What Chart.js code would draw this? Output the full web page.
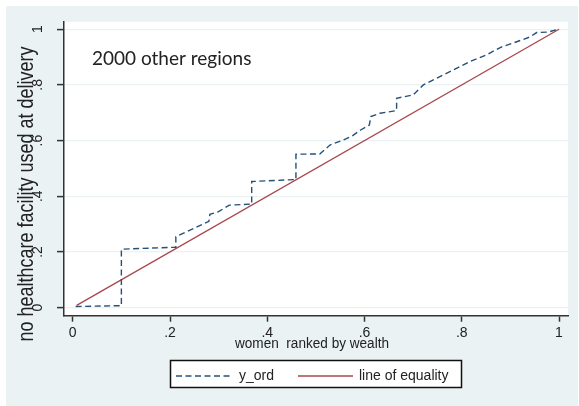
<!DOCTYPE html>
<html>
<head>
    <title>Concentration curve - 2000 other regions</title>
    <script src="https://cdn.jsdelivr.net/npm/chart.js"></script>
    <style>
        body { margin: 0; background: #ffffff; }
        canvas { display: block; }
    </style>
</head>
<body>
<canvas id="curve-chart" width="579" height="406"></canvas>
<script>
    // Tick positions and labels (Stata style, no leading zero)
    const xTicks = [0, 0.2, 0.4, 0.6, 0.8, 1];
    const xTickLabels = ['0', '.2', '.4', '.6', '.8', '1'];
    const yTicks = [0, 0.2, 0.4, 0.6, 0.8, 1];
    const yTickLabels = ['0', '.2', '.4', '.6', '.8', '1'];

    // y_ord curve
    const yOrdX = [0.006, 0.100, 0.100, 0.212, 0.212, 0.250, 0.280, 0.282, 0.300, 0.322,
                   0.368, 0.368, 0.459, 0.459, 0.508, 0.529, 0.556, 0.575, 0.592, 0.610,
                   0.613, 0.632, 0.666, 0.666, 0.700, 0.721, 0.755, 0.783, 0.817, 0.851,
                   0.880, 0.913, 0.940, 0.954, 0.978, 0.998];
    const yOrdY = [0.004, 0.007, 0.210, 0.217, 0.255, 0.285, 0.310, 0.335, 0.345, 0.368,
                   0.372, 0.453, 0.460, 0.551, 0.552, 0.584, 0.602, 0.617, 0.638, 0.656,
                   0.686, 0.698, 0.708, 0.752, 0.764, 0.800, 0.830, 0.854, 0.884, 0.908,
                   0.935, 0.955, 0.972, 0.988, 0.990, 1.000];

    // line of equality
    const equalityX = [0.008, 1];
    const equalityY = [0.008, 1];

    const seriesLabels = ['y_ord', 'line of equality'];
    const annotationText = '2000 other regions';
    const xTitle = 'women  ranked by wealth';
    const yTitle = 'no healthcare facility used at delivery';

    const navy = '#24507a';
    const maroon = '#a9474d';
    const bgColor = '#eaf2f3';
    const axisColor = '#333333';
    const textColor = '#222222';

    function toPoints(xs, ys) {
        return xs.map((x, i) => ({ x: x, y: ys[i] }));
    }

    // Stata-like backgrounds and the text the axes don't handle
    const stataDecor = {
        id: 'stataDecor',
        beforeDraw(chart) {
            const ctx = chart.ctx;
            const area = chart.chartArea;
            ctx.save();
            ctx.fillStyle = '#ffffff';
            ctx.fillRect(0, 0, chart.width, chart.height);
            ctx.fillStyle = bgColor;
            ctx.fillRect(6, 6, chart.width - 7, chart.height - 6);
            ctx.fillStyle = '#ffffff';
            ctx.fillRect(area.left, area.top, area.right - area.left, area.bottom - area.top);
            ctx.restore();
        },
        afterDraw(chart) {
            const ctx = chart.ctx;
            const yScale = chart.scales.y;
            ctx.save();
            ctx.fillStyle = textColor;

            // rotated y tick labels
            ctx.font = '14px "Liberation Sans", Arial, sans-serif';
            ctx.textAlign = 'center';
            ctx.textBaseline = 'middle';
            yTicks.forEach((v, i) => {
                const py = yScale.getPixelForValue(v);
                ctx.save();
                ctx.translate(38, py);
                ctx.rotate(-Math.PI / 2);
                ctx.fillText(yTickLabels[i], 0, 0);
                ctx.restore();
            });

            // y title
            ctx.save();
            ctx.font = '22px "Liberation Sans", Arial, sans-serif';
            ctx.textAlign = 'center';
            ctx.textBaseline = 'alphabetic';
            ctx.translate(33, 194);
            ctx.rotate(-Math.PI / 2);
            ctx.fillText(yTitle, 0, 0, 295);
            ctx.restore();

            // x title
            ctx.font = '14px "Liberation Sans", Arial, sans-serif';
            ctx.textAlign = 'center';
            ctx.textBaseline = 'alphabetic';
            ctx.fillText(xTitle, 312, 348, 154);

            // text inside the plot
            ctx.font = '19px Lato, "Open Sans", sans-serif';
            ctx.textAlign = 'left';
            ctx.fillText(annotationText, 92, 65, 173);

            // legend box
            ctx.fillStyle = '#ffffff';
            ctx.fillRect(170.5, 360.5, 291, 27);
            ctx.strokeStyle = '#111111';
            ctx.lineWidth = 1.5;
            ctx.strokeRect(170.5, 360.5, 291, 27);

            ctx.lineWidth = 1.4;
            ctx.strokeStyle = navy;
            ctx.setLineDash([6, 3.5]);
            ctx.beginPath();
            ctx.moveTo(176, 376);
            ctx.lineTo(232, 376);
            ctx.stroke();
            ctx.setLineDash([]);
            ctx.strokeStyle = maroon;
            ctx.beginPath();
            ctx.moveTo(298, 376);
            ctx.lineTo(353, 376);
            ctx.stroke();

            ctx.fillStyle = textColor;
            ctx.font = '14px "Liberation Sans", Arial, sans-serif';
            ctx.textAlign = 'left';
            ctx.fillText(seriesLabels[0], 239, 380);
            ctx.fillText(seriesLabels[1], 359, 380, 93);
            ctx.restore();
        }
    };

    const ctx = document.getElementById('curve-chart').getContext('2d');

    new Chart(ctx, {
        type: 'scatter',
        data: {
            datasets: [
                {
                    label: seriesLabels[0],
                    data: toPoints(yOrdX, yOrdY),
                    showLine: true,
                    borderColor: navy,
                    borderWidth: 1.4,
                    borderDash: [6, 3.5],
                    pointRadius: 0,
                    fill: false
                },
                {
                    label: seriesLabels[1],
                    data: toPoints(equalityX, equalityY),
                    showLine: true,
                    borderColor: maroon,
                    borderWidth: 1.3,
                    pointRadius: 0,
                    fill: false
                }
            ]
        },
        options: {
            responsive: false,
            animation: false,
            devicePixelRatio: 1,
            layout: {
                padding: { top: 21.7, right: 11, left: 0, bottom: 0 }
            },
            plugins: {
                legend: { display: false },
                tooltip: { enabled: false }
            },
            scales: {
                x: {
                    type: 'linear',
                    min: -0.018,
                    max: 1.0185,
                    afterBuildTicks: scale => { scale.ticks = xTicks.map(v => ({ value: v })); },
                    afterFit: scale => { scale.height = 406 - 315.7; },
                    ticks: {
                        callback: (value, index) => xTickLabels[index],
                        autoSkip: false,
                        maxRotation: 0,
                        minRotation: 0,
                        padding: 3,
                        color: textColor,
                        font: { family: '"Liberation Sans", Arial, sans-serif', size: 14 }
                    },
                    grid: {
                        drawOnChartArea: false,
                        drawTicks: true,
                        tickLength: 6,
                        tickColor: axisColor,
                        tickWidth: 1.5
                    },
                    border: { color: axisColor, width: 1.5 }
                },
                y: {
                    type: 'linear',
                    min: -0.029,
                    max: 1.027,
                    afterBuildTicks: scale => { scale.ticks = yTicks.map(v => ({ value: v })); },
                    afterFit: scale => { scale.width = 64; },
                    ticks: {
                        callback: (value, index) => yTickLabels[index],
                        color: 'rgba(0,0,0,0)',
                        font: { size: 13 }
                    },
                    grid: {
                        color: bgColor,
                        lineWidth: 1.2,
                        drawTicks: true,
                        tickLength: 7,
                        tickColor: axisColor,
                        tickWidth: 1.5
                    },
                    border: { color: axisColor, width: 1.5 }
                }
            }
        },
        plugins: [stataDecor]
    });
</script>
</body>
</html>
